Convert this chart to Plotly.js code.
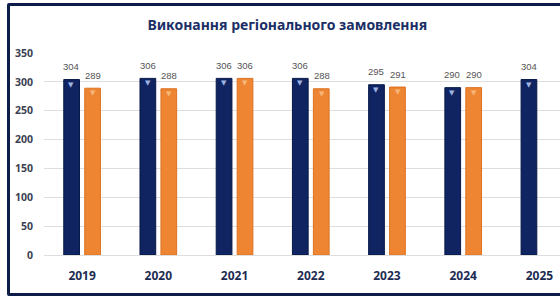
<!DOCTYPE html>
<html><head><meta charset="utf-8">
<script src="https://cdn.plot.ly/plotly-3.0.1.min.js"></script>
<style>
html,body{margin:0;padding:0;background:#fff;overflow:hidden;}
#wrap{position:relative;width:560px;height:296px;}
#chart{position:absolute;left:0;top:0;width:560px;height:296px;}
#frame{position:absolute;left:7px;top:3px;width:580px;height:287px;border:3px solid #0d1c48;border-radius:2px;pointer-events:none;}
</style></head>
<body>
<div id="wrap"><div id="chart"></div><div id="frame"></div></div>
<script>
const years = ['2019','2020','2021','2022','2023','2024','2025'];
const plan = [304, 306, 306, 306, 295, 290, 304];
const actual = [289, 288, 306, 288, 291, 290, null];
const titleText = 'Виконання регіонального замовлення';

const labelFont = {family: 'Liberation Sans Narrow, Liberation Sans, sans-serif', size: 9.5, color: '#555555'};

const traces = [
  {type:'bar', x: years, y: plan, name:'plan',
   marker:{color:'#0f2461', line:{color:'#081848', width:1}}, hoverinfo:'skip'},
  {type:'bar', x: years, y: actual, name:'actual',
   marker:{color:'#ee8532', line:{color:'#dc7222', width:1}}, hoverinfo:'skip'}
];

const annotations = [];
const series = [{vals: plan, shift: -10.75, tri: '#9fb3e0'}, {vals: actual, shift: 10.75, tri: '#f7b77a'}];
series.forEach(s => {
  years.forEach((yr, i) => {
    const v = s.vals[i];
    if (v == null) return;
    annotations.push({x: i, y: v, xref: 'x', yref: 'y', text: String(v), showarrow: false,
      xshift: s.shift, yshift: 13, font: labelFont});
    annotations.push({x: i, y: v, xref: 'x', yref: 'y', text: '▼', showarrow: false,
      xshift: s.shift, yshift: -5, font: {family: 'DejaVu Sans, sans-serif', size: 7, color: s.tri}});
  });
});

const layout = {
  width: 560, height: 296,
  margin: {l: 44, r: 0, t: 53, b: 41, pad: 0},
  paper_bgcolor: '#ffffff', plot_bgcolor: '#ffffff',
  showlegend: false,
  barmode: 'group', bargap: 0.45, bargroupgap: 0.25,
  annotations: annotations,
  title: {text: '<b>' + titleText + '</b>', x: 0.513, xanchor: 'center', y: 0.915, yanchor: 'middle',
          font: {family: 'Noto Sans, sans-serif', size: 14, color: '#1b2f66'}},
  xaxis: {type: 'category', range: [-0.5, 6.27], showgrid: false, zeroline: false, showline: false,
          ticks: '', tickfont: {family: 'Noto Sans, sans-serif', size: 12, color: '#1d2b52', weight: 'bold'},
          ticklabelstandoff: 12},
  yaxis: {range: [0, 350], dtick: 50, showgrid: true, gridcolor: '#dedede', gridwidth: 1,
          zeroline: true, zerolinecolor: '#dedede', showline: false, ticks: '',
          tickfont: {family: 'Noto Sans, sans-serif', size: 10.5, color: '#3b3f52', weight: 'bold'},
          ticklabelstandoff: 10}
};

Plotly.newPlot('chart', traces, layout, {staticPlot: true, displayModeBar: false});
</script>
</body></html>
